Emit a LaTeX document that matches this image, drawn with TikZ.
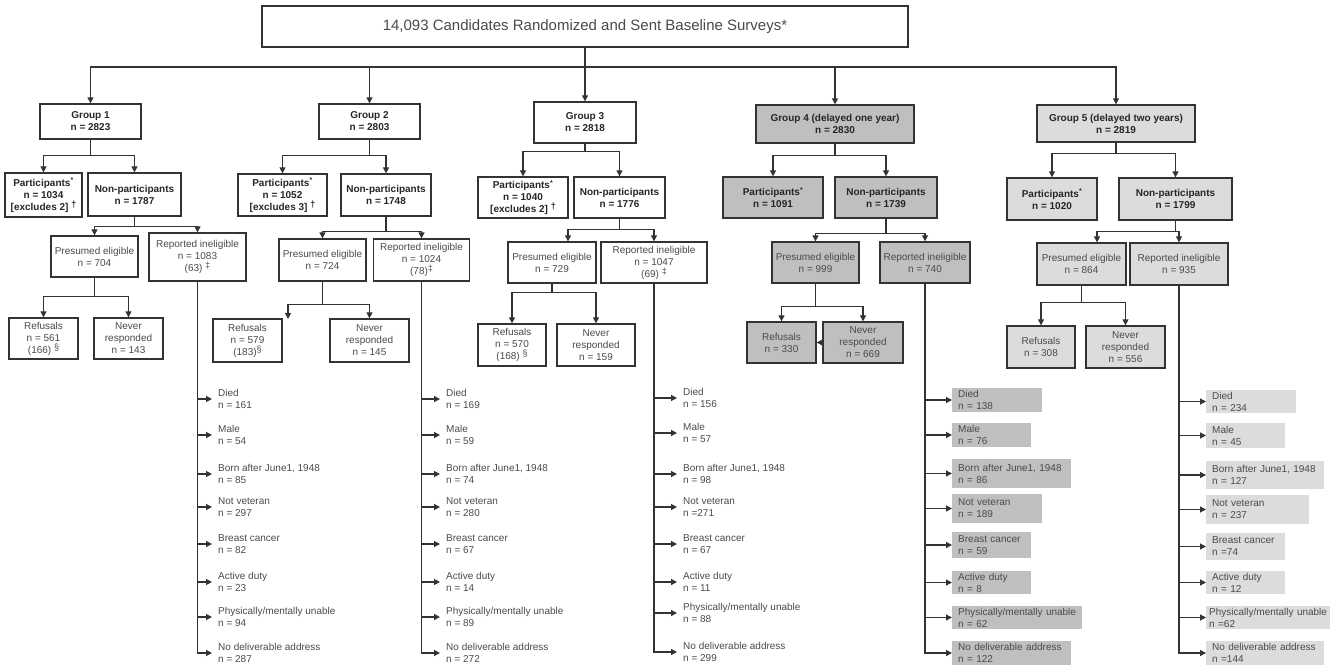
\documentclass[tikz,border=0pt]{standalone}
\usepackage{fontspec}
\setmainfont{Liberation Sans}
\usepackage{xcolor}
\usepackage{tikz}
\usetikzlibrary{arrows.meta,calc,positioning}
\definecolor{lncol}{HTML}{333333}
\definecolor{txt}{HTML}{4A4A4A}
\definecolor{shadeA}{HTML}{BFBFBF}
\definecolor{shadeB}{HTML}{DCDCDC}
\newcommand{\fmark}[1]{\raisebox{3pt}{\fontsize{9}{9}\selectfont #1}}

\begin{document}
\begin{tikzpicture}[x=1pt,y=-1pt,
  ln/.style={draw=lncol,line width=1.2pt},
  arr/.style={ln,-{Triangle[length=6pt,width=6pt]}},
  box/.style={draw=lncol,line width=1.3pt,align=center,inner sep=2pt,text=txt,font=\fontsize{10}{12}\selectfont},
  bbox/.style={box,text=black!85,font=\fontsize{10}{12}\selectfont\bfseries},
  itm/.style={anchor=west,align=left,inner xsep=6pt,inner ysep=1.5pt,text=txt,font=\fontsize{10}{12}\selectfont},
  shA/.style={itm,fill=shadeA},
  shB/.style={itm,fill=shadeB}]
\useasboundingbox (0,0) rectangle (1340,671);

\node[box, minimum width=646pt, minimum height=41pt, font=\fontsize{15}{18}\selectfont] (top) at (585,26.5) {14,093 Candidates Randomized and Sent Baseline Surveys*};

\node[bbox, minimum width=101pt, minimum height=35pt] (g1) at (90.5,121.5) {Group 1\\n = 2823};
\node[bbox, minimum width=101pt, minimum height=35pt] (g2) at (369.5,121.5) {Group 2\\n = 2803};
\node[bbox, minimum width=102pt, minimum height=41pt] (g3) at (585,122.5) {Group 3\\n = 2818};
\node[bbox, fill=shadeA, minimum width=158pt, minimum height=38pt] (g4) at (835,124) {Group 4 (delayed one year)\\n = 2830};
\node[bbox, fill=shadeB, minimum width=158pt, minimum height=37pt] (g5) at (1116,123.5) {Group 5 (delayed two years)\\n = 2819};

\node[bbox, minimum width=77pt, minimum height=44pt] (p1) at (43.5,195) {Participants\textsuperscript{*}\\n = 1034\\{[}excludes 2] \fmark{†}};
\node[bbox, minimum width=93pt, minimum height=43pt] (n1) at (134.5,194.5) {Non-participants\\n = 1787};
\node[bbox, minimum width=89pt, minimum height=42pt] (p2) at (282.5,195) {Participants\textsuperscript{*}\\n = 1052\\{[}excludes 3] \fmark{†}};
\node[bbox, minimum width=90pt, minimum height=42pt] (n2) at (386,195) {Non-participants\\n = 1748};
\node[bbox, minimum width=90pt, minimum height=41pt] (p3) at (523,197.5) {Participants\textsuperscript{*}\\n = 1040\\{[}excludes 2] \fmark{†}};
\node[bbox, minimum width=91pt, minimum height=41pt] (n3) at (619.5,197.5) {Non-participants\\n = 1776};
\node[bbox, fill=shadeA, minimum width=100pt, minimum height=41pt] (p4) at (773,197.5) {Participants\textsuperscript{*}\\n = 1091};
\node[bbox, fill=shadeA, minimum width=102pt, minimum height=41pt] (n4) at (886,197.5) {Non-participants\\n = 1739};
\node[bbox, fill=shadeB, minimum width=90pt, minimum height=42pt] (p5) at (1052,199) {Participants\textsuperscript{*}\\n = 1020};
\node[bbox, fill=shadeB, minimum width=113pt, minimum height=42pt] (n5) at (1175.5,199) {Non-participants\\n = 1799};

\node[box, minimum width=87pt, minimum height=41pt] (e1) at (94.5,256.5) {Presumed eligible\\n = 704};
\node[box, minimum width=97pt, minimum height=48pt] (r1) at (197.5,257) {Reported ineligible\\n = 1083\\(63) \fmark{‡}};
\node[box, minimum width=87pt, minimum height=42pt] (e2) at (322.5,260) {Presumed eligible\\n = 724};
\node[box, minimum width=96pt, minimum height=42pt] (r2) at (421.5,260) {Reported ineligible\\n = 1024\\(78)\fmark{‡}};
\node[box, minimum width=88pt, minimum height=41pt] (e3) at (552,262.5) {Presumed eligible\\n = 729};
\node[box, minimum width=106pt, minimum height=41pt] (r3) at (654,262.5) {Reported ineligible\\n = 1047\\(69) \fmark{‡}};
\node[box, fill=shadeA, minimum width=87pt, minimum height=41pt] (e4) at (815.5,262.5) {Presumed eligible\\n = 999};
\node[box, fill=shadeA, minimum width=90pt, minimum height=41pt] (r4) at (925,262.5) {Reported ineligible\\n = 740};
\node[box, fill=shadeB, minimum width=89pt, minimum height=42pt] (e5) at (1081.5,264) {Presumed eligible\\n = 864};
\node[box, fill=shadeB, minimum width=98pt, minimum height=42pt] (r5) at (1179,264) {Reported ineligible\\n = 935};

\node[box, minimum width=69pt, minimum height=41pt] (f1) at (43.5,338.5) {Refusals\\n = 561\\(166) \fmark{§}};
\node[box, minimum width=69pt, minimum height=41pt] (v1) at (128.5,338.5) {Never\\responded\\n = 143};
\node[box, minimum width=69pt, minimum height=43pt] (f2) at (247.5,340.5) {Refusals\\n = 579\\(183)\fmark{§}};
\node[box, minimum width=79pt, minimum height=43pt] (v2) at (369.5,340.5) {Never\\responded\\n = 145};
\node[box, minimum width=68pt, minimum height=42pt] (f3) at (512,345) {Refusals\\n = 570\\(168) \fmark{§}};
\node[box, minimum width=78pt, minimum height=42pt] (v3) at (596,345) {Never\\responded\\n = 159};
\node[box, fill=shadeA, minimum width=69pt, minimum height=41pt] (f4) at (781.5,342.5) {Refusals\\n = 330};
\node[box, fill=shadeA, minimum width=80pt, minimum height=41pt] (v4) at (863,342.5) {Never\\responded\\n = 669};
\node[box, fill=shadeB, minimum width=68pt, minimum height=42pt] (f5) at (1041,347) {Refusals\\n = 308};
\node[box, fill=shadeB, minimum width=79pt, minimum height=42pt] (v5) at (1125.5,347) {Never\\responded\\n = 556};
\coordinate (f2tip) at (288,319);

\node[itm] (i1a) at (212,399) {Died\\n = 161};
\node[itm] (i1b) at (212,435) {Male\\n = 54};
\node[itm] (i1c) at (212,474) {Born after June1, 1948\\n = 85};
\node[itm] (i1d) at (212,507) {Not veteran\\n = 297};
\node[itm] (i1e) at (212,544) {Breast cancer\\n = 82};
\node[itm] (i1f) at (212,582) {Active duty\\n = 23};
\node[itm] (i1g) at (212,617) {Physically/mentally unable\\n = 94};
\node[itm] (i1h) at (212,653) {No deliverable address\\n = 287};

\node[itm] (i2a) at (440,399) {Died\\n = 169};
\node[itm] (i2b) at (440,435) {Male\\n = 59};
\node[itm] (i2c) at (440,474) {Born after June1, 1948\\n = 74};
\node[itm] (i2d) at (440,507) {Not veteran\\n = 280};
\node[itm] (i2e) at (440,544) {Breast cancer\\n = 67};
\node[itm] (i2f) at (440,582) {Active duty\\n = 14};
\node[itm] (i2g) at (440,617) {Physically/mentally unable\\n = 89};
\node[itm] (i2h) at (440,653) {No deliverable address\\n = 272};

\node[itm] (i3a) at (677,398) {Died\\n = 156};
\node[itm] (i3b) at (677,433) {Male\\n = 57};
\node[itm] (i3c) at (677,474) {Born after June1, 1948\\n = 98};
\node[itm] (i3d) at (677,507) {Not veteran\\n =271};
\node[itm] (i3e) at (677,544) {Breast cancer\\n = 67};
\node[itm] (i3f) at (677,582) {Active duty\\n = 11};
\node[itm] (i3g) at (677,613) {Physically/mentally unable\\n = 88};
\node[itm] (i3h) at (677,652) {No deliverable address\\n = 299};

\node[shA, text width=78pt, minimum height=24pt] (i4a) at (952,400) {Died\\n = 138};
\node[shA, text width=67pt, minimum height=24pt] (i4b) at (952,435) {Male\\n = 76};
\node[shA, text width=107pt, minimum height=29pt] (i4c) at (952,473.5) {Born after June1, 1948\\n = 86};
\node[shA, text width=78pt, minimum height=29pt] (i4d) at (952,508.5) {Not veteran\\n = 189};
\node[shA, text width=67pt, minimum height=26pt] (i4e) at (952,545) {Breast cancer\\n = 59};
\node[shA, text width=67pt, minimum height=23pt] (i4f) at (952,582.5) {Active duty\\n = 8};
\node[shA, text width=118pt, minimum height=23pt] (i4g) at (952,617.5) {Physically/mentally unable\\n = 62};
\node[shA, text width=107pt, minimum height=24pt] (i4h) at (952,653) {No deliverable address\\n = 122};

\node[shB, text width=78pt, minimum height=23pt] (i5a) at (1206,401.5) {Died\\n = 234};
\node[shB, text width=67pt, minimum height=25pt] (i5b) at (1206,435.5) {Male\\n = 45};
\node[shB, text width=106pt, minimum height=28pt] (i5c) at (1206,475) {Born after June1, 1948\\n = 127};
\node[shB, text width=91pt, minimum height=29pt] (i5d) at (1206,509.5) {Not veteran\\n = 237};
\node[shB, text width=67pt, minimum height=27pt] (i5e) at (1206,546.5) {Breast cancer\\n =74};
\node[shB, text width=67pt, minimum height=23pt] (i5f) at (1206,582.5) {Active duty\\n = 12};
\node[shB, text width=118pt, inner xsep=3pt, minimum height=23pt] (i5g) at (1206,617.5) {Physically/mentally unable\\n =62};
\node[shB, text width=106pt, minimum height=24pt] (i5h) at (1206,653) {No deliverable address\\n =144};

\coordinate (bus) at (585,67);
\draw[ln] (top.south) -- (bus);
\draw[arr] (bus) -| (g1.north);
\draw[arr] (bus) -| (g5.north);
\draw[arr] (bus) -- (g3.north);
\draw[arr] (g2.north |- bus) -- (g2.north);
\draw[arr] (g4.north |- bus) -- (g4.north);

\draw[arr] (g1.south) -- ++(0,16) -| (p1.north);
\draw[arr] (g1.south) -- ++(0,16) -| (n1.north);
\draw[arr] (g2.south) -- ++(0,16) -| (p2.north);
\draw[arr] (g2.south) -- ++(0,16) -| (n2.north);
\draw[arr] (g3.south) -- ++(0,8) -| (p3.north);
\draw[arr] (g3.south) -- ++(0,8) -| (n3.north);
\draw[arr] (g4.south) -- ++(0,12) -| (p4.north);
\draw[arr] (g4.south) -- ++(0,12) -| (n4.north);
\draw[arr] (g5.south) -- ++(0,11) -| (p5.north);
\draw[arr] (g5.south) -- ++(0,11) -| (n5.north);

\draw[arr] (n1.south) -- ++(0,10) -| (e1.north);
\draw[arr] (n1.south) -- ++(0,10) -| (r1.north);
\draw[arr] (n2.south) -- ++(0,15) -| (e2.north);
\draw[arr] (n2.south) -- ++(0,15) -| (r2.north);
\draw[arr] (n3.south) -- ++(0,11) -| ([xshift=16pt]e3.north);
\draw[arr] (n3.south) -- ++(0,11) -| (r3.north);
\draw[arr] (n4.south) -- ++(0,15) -| (e4.north);
\draw[arr] (n4.south) -- ++(0,15) -| (r4.north);
\draw[arr] (n5.south) -- ++(0,11) -| ([xshift=15.5pt]e5.north);
\draw[arr] (n5.south) -- ++(0,11) -| (r5.north);

\draw[arr] (e1.south) -- ++(0,19) -| (f1.north);
\draw[arr] (e1.south) -- ++(0,19) -| (v1.north);
\draw[arr] (e2.south) -- ++(0,23) -| (f2tip);
\draw[arr] (e2.south) -- ++(0,23) -| (v2.north);
\draw[arr] (e3.south) -- ++(0,9) -| (f3.north);
\draw[arr] (e3.south) -- ++(0,9) -| (v3.north);
\draw[arr] (e4.south) -- ++(0,23) -| (f4.north);
\draw[arr] (e4.south) -- ++(0,23) -| (v4.north);
\draw[arr] (e5.south) -- ++(0,17) -| (f5.north);
\draw[arr] (e5.south) -- ++(0,17) -| (v5.north);
\draw[arr] (v4.west) -- (f4.east);

\draw[arr] (r1.south) |- (i1h.west);
\draw[arr] (r1.south |- i1a.west) -- (i1a.west);
\draw[arr] (r1.south |- i1b.west) -- (i1b.west);
\draw[arr] (r1.south |- i1c.west) -- (i1c.west);
\draw[arr] (r1.south |- i1d.west) -- (i1d.west);
\draw[arr] (r1.south |- i1e.west) -- (i1e.west);
\draw[arr] (r1.south |- i1f.west) -- (i1f.west);
\draw[arr] (r1.south |- i1g.west) -- (i1g.west);

\draw[arr] (r2.south) |- (i2h.west);
\draw[arr] (r2.south |- i2a.west) -- (i2a.west);
\draw[arr] (r2.south |- i2b.west) -- (i2b.west);
\draw[arr] (r2.south |- i2c.west) -- (i2c.west);
\draw[arr] (r2.south |- i2d.west) -- (i2d.west);
\draw[arr] (r2.south |- i2e.west) -- (i2e.west);
\draw[arr] (r2.south |- i2f.west) -- (i2f.west);
\draw[arr] (r2.south |- i2g.west) -- (i2g.west);

\draw[arr] (r3.south) |- (i3h.west);
\draw[arr] (r3.south |- i3a.west) -- (i3a.west);
\draw[arr] (r3.south |- i3b.west) -- (i3b.west);
\draw[arr] (r3.south |- i3c.west) -- (i3c.west);
\draw[arr] (r3.south |- i3d.west) -- (i3d.west);
\draw[arr] (r3.south |- i3e.west) -- (i3e.west);
\draw[arr] (r3.south |- i3f.west) -- (i3f.west);
\draw[arr] (r3.south |- i3g.west) -- (i3g.west);

\draw[arr] (r4.south) |- (i4h.west);
\draw[arr] (r4.south |- i4a.west) -- (i4a.west);
\draw[arr] (r4.south |- i4b.west) -- (i4b.west);
\draw[arr] (r4.south |- i4c.west) -- (i4c.west);
\draw[arr] (r4.south |- i4d.west) -- (i4d.west);
\draw[arr] (r4.south |- i4e.west) -- (i4e.west);
\draw[arr] (r4.south |- i4f.west) -- (i4f.west);
\draw[arr] (r4.south |- i4g.west) -- (i4g.west);

\draw[arr] (r5.south) |- (i5h.west);
\draw[arr] (r5.south |- i5a.west) -- (i5a.west);
\draw[arr] (r5.south |- i5b.west) -- (i5b.west);
\draw[arr] (r5.south |- i5c.west) -- (i5c.west);
\draw[arr] (r5.south |- i5d.west) -- (i5d.west);
\draw[arr] (r5.south |- i5e.west) -- (i5e.west);
\draw[arr] (r5.south |- i5f.west) -- (i5f.west);
\draw[arr] (r5.south |- i5g.west) -- (i5g.west);
\end{tikzpicture}
\end{document}
